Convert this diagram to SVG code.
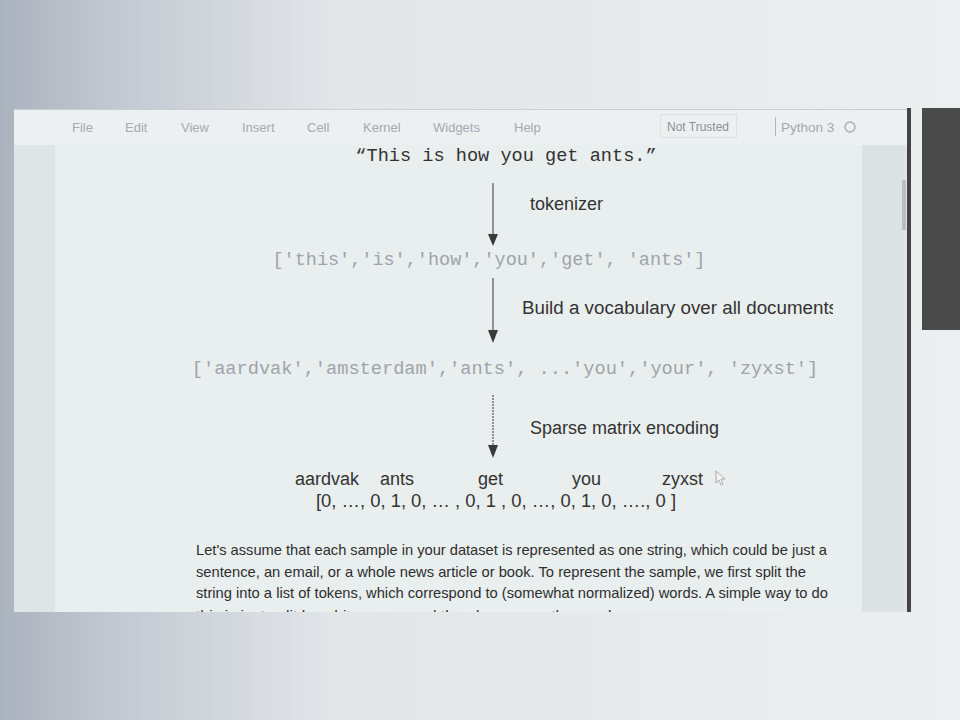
<svg xmlns="http://www.w3.org/2000/svg" width="960" height="720" viewBox="0 0 960 720">
<defs>
<linearGradient id="bg" x1="0" y1="0" x2="1" y2="0">
<stop offset="0" stop-color="#aab2be"/>
<stop offset="0.12" stop-color="#c3c9d1"/>
<stop offset="0.35" stop-color="#e2e6e9"/>
<stop offset="1" stop-color="#eceff0"/>
</linearGradient>
<clipPath id="cell"><rect x="55" y="145" width="807" height="467"/></clipPath>
<clipPath id="lab"><rect x="500" y="290" width="333" height="40"/></clipPath>
<style>
.menu{font-family:"Liberation Sans",Arial,sans-serif;font-size:13px;fill:#a3aab2}
.mono{font-family:"Liberation Mono","DejaVu Sans Mono",monospace}
.sans{font-family:"Liberation Sans",Arial,sans-serif}
.dark{fill:#333}
.list{fill:#9ea4ab}
.conn{stroke:#555;stroke-width:1.2;fill:none}
.head{fill:#3a3a3a}
</style>
</defs>
<rect width="960" height="720" fill="url(#bg)"/>
<g id="window">
<rect x="14" y="109" width="894" height="503" fill="#dfe4e6"/>
<rect x="14" y="109" width="894" height="36" fill="#edf0f0"/>
<line x1="14" y1="109.5" x2="908" y2="109.5" stroke="#c9ced3" stroke-width="1"/>
<rect x="55" y="145" width="807" height="467" fill="#e9eeee"/>
<rect x="862" y="145" width="42" height="467" fill="#dce1e3"/>
<rect x="902" y="180" width="4" height="50" fill="#b9bec3"/>
<rect x="907" y="108" width="4" height="504" fill="#444"/>
<rect x="922" y="108" width="38" height="222" fill="#4a4a4a"/>
</g>
<g id="menubar">
<text class="menu" x="72" y="132">File</text>
<text class="menu" x="125" y="132">Edit</text>
<text class="menu" x="181" y="132">View</text>
<text class="menu" x="242" y="132">Insert</text>
<text class="menu" x="307" y="132">Cell</text>
<text class="menu" x="363" y="132">Kernel</text>
<text class="menu" x="433" y="132">Widgets</text>
<text class="menu" x="514" y="132">Help</text>
<rect x="660.5" y="114.5" width="76" height="23" fill="none" stroke="#d0d4d8" stroke-dasharray="1 1"/>
<text class="menu" x="698" y="131" text-anchor="middle" style="font-size:12px;fill:#8a9098">Not Trusted</text>
<line x1="775.5" y1="117" x2="775.5" y2="136" stroke="#b0b6bc"/>
<text class="menu" x="781" y="132" style="font-size:13.5px">Python 3</text>
<circle cx="850" cy="127" r="5" fill="none" stroke="#a3aab2" stroke-width="1.3"/>
</g>
<g clip-path="url(#cell)">
<g id="sentence"><text class="mono dark" x="506" y="161" text-anchor="middle" font-size="18.6">“This is how you get ants.”</text></g>
<g id="tokens"><text class="mono list" x="489" y="265" text-anchor="middle" font-size="18.5">['this','is','how','you','get', 'ants']</text></g>
<g id="vocab"><text class="mono list" x="505" y="374" text-anchor="middle" font-size="18.65">['aardvak','amsterdam','ants', ...'you','your', 'zyxst']</text></g>
<g id="encoding">
<text class="sans dark" font-size="18" y="485"><tspan x="295">aardvak</tspan><tspan x="380">ants</tspan><tspan x="478">get</tspan><tspan x="572">you</tspan><tspan x="662">zyxst</tspan></text>
<text class="sans dark" font-size="18" x="316" y="507" textLength="360" lengthAdjust="spacingAndGlyphs">[0, …, 0, 1, 0, … , 0, 1 , 0, …, 0, 1, 0, …., 0 ]</text>
<path d="M716,471 L716,483 L719,480 L721,485 L723,484 L721,479 L725,479 Z" fill="#f4f4f4" stroke="#9a9a9a" stroke-width="0.8"/>
</g>
<g id="labels">
<text class="sans dark" font-size="18" x="530" y="210">tokenizer</text>
<text class="sans dark" font-size="18" x="522" y="314" textLength="316" lengthAdjust="spacingAndGlyphs" clip-path="url(#lab)">Build a vocabulary over all documents</text>
<text class="sans dark" font-size="18" x="530" y="434">Sparse matrix encoding</text>
</g>
<g id="paragraph" class="sans" font-size="14.2" fill="#2e2e2e">
<text x="196" y="555" textLength="631" lengthAdjust="spacingAndGlyphs">Let's assume that each sample in your dataset is represented as one string, which could be just a</text>
<text x="196" y="577" textLength="610" lengthAdjust="spacingAndGlyphs">sentence, an email, or a whole news article or book. To represent the sample, we first split the</text>
<text x="196" y="598" textLength="632" lengthAdjust="spacingAndGlyphs">string into a list of tokens, which correspond to (somewhat normalized) words. A simple way to do</text>
<text x="196" y="621" textLength="420" lengthAdjust="spacingAndGlyphs">this is just split by whitespace, and then lowercase the word.</text>
</g>
</g>
<g id="connectors">
<line class="conn" x1="493" y1="183" x2="493" y2="236"/>
<path class="head" d="M488,234 L498,234 L493,246 Z"/>
<line class="conn" x1="493" y1="278" x2="493" y2="332"/>
<path class="head" d="M488,330 L498,330 L493,343 Z"/>
<line class="conn" x1="493" y1="395" x2="493" y2="447" stroke-dasharray="2 1"/>
<path class="head" d="M488,445 L498,445 L493,458 Z"/>
</g>
</svg>
